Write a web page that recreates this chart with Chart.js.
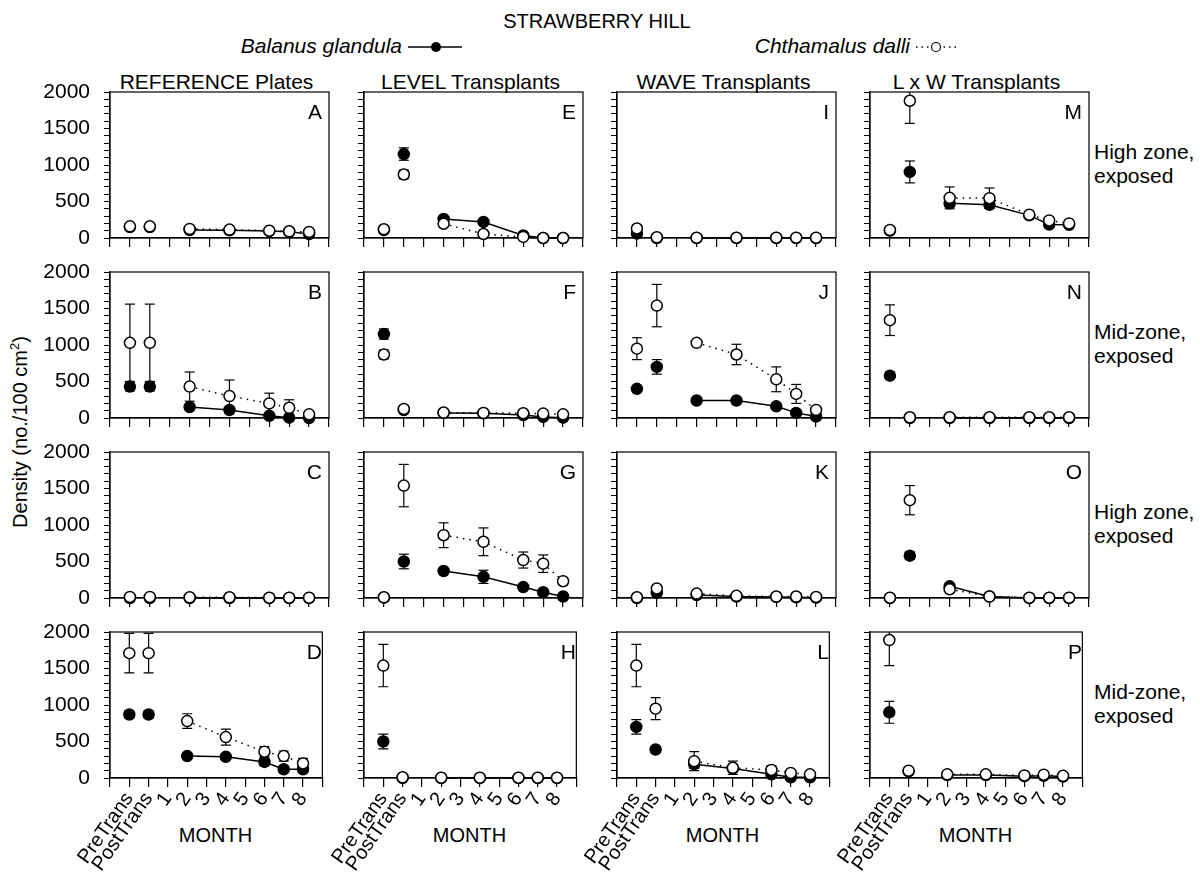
<!DOCTYPE html>
<html>
<head>
<meta charset="utf-8">
<script src="https://cdn.jsdelivr.net/npm/chart.js@4"></script>
<style>
  body { margin: 0; background: #fff; }
  #fig { position: relative; width: 1200px; height: 886px; overflow: hidden;
         font-family: 'Liberation Sans', Arial, sans-serif; color: #000; }
  .t { position: absolute; font-size: 20px; line-height: 1; white-space: nowrap; }
  canvas { position: absolute; }
</style>
</head>
<body>
<div id="fig"></div>
<script>
// x axis slots and the sampling dates that carry data
const xLabels = ['PreTrans', 'PostTrans', '1', '2', '3', '4', '5', '6', '7', '8'];
const samples = ['PreTrans', 'PostTrans', '2', '4', '6', '7', '8'];

const panelLetters = ['A', 'B', 'C', 'D', 'E', 'F', 'G', 'H', 'I', 'J', 'K', 'L', 'M', 'N', 'O', 'P'];
const columnTitles = ['REFERENCE Plates', 'LEVEL Transplants', 'WAVE Transplants', 'L x W Transplants'];
const rowLabels = [['High zone,', 'exposed'], ['Mid-zone,', 'exposed'], ['High zone,', 'exposed'], ['Mid-zone,', 'exposed']];
const yMax = 2000;

// Balanus glandula (filled), panels A..P, one value per sample
const balanusMean = [
  [150, 150, 110, 105, 95, 85, 55],
  [430, 430, 150, 110, 30, 5, 0],
  [0, 0, 0, 0, 0, 0, 0],
  [870, 870, 300, 290, 220, 120, 120],
  [110, 1150, 260, 220, 35, 0, 0],
  [1150, 110, 70, 65, 40, 15, 5],
  [5, 500, 370, 290, 150, 80, 20],
  [500, 0, 0, 0, 0, 0, 0],
  [60, 0, 0, 0, 0, 0, 0],
  [400, 700, 240, 240, 160, 70, 20],
  [0, 70, 40, 20, 15, 10, 5],
  [700, 390, 190, 130, 50, 10, 10],
  [100, 905, 475, 455, 310, 185, 180],
  [580, 0, 0, 0, 0, 0, 0],
  [0, 580, 160, 20, 0, 0, 0],
  [900, 90, 40, 40, 25, 30, 20]
];
const balanusSE = [
  [0, 0, 0, 0, 0, 0, 0],
  [60, 60, 40, 40, 20, 10, 0],
  [0, 0, 0, 0, 0, 0, 0],
  [50, 50, 40, 40, 50, 30, 30],
  [0, 85, 20, 20, 10, 0, 0],
  [70, 20, 10, 10, 10, 10, 0],
  [0, 100, 30, 90, 30, 20, 10],
  [100, 0, 0, 0, 0, 0, 0],
  [0, 0, 0, 0, 0, 0, 0],
  [30, 100, 20, 20, 20, 15, 10],
  [0, 20, 10, 10, 5, 5, 0],
  [100, 30, 60, 40, 20, 10, 10],
  [0, 150, 50, 50, 20, 20, 20],
  [50, 0, 0, 0, 0, 0, 0],
  [0, 50, 20, 10, 0, 0, 0],
  [150, 10, 10, 10, 10, 10, 10]
];
// Chthamalus dalli (open)
const chthamalusMean = [
  [160, 160, 125, 115, 100, 92, 83],
  [1030, 1030, 430, 300, 200, 140, 50],
  [15, 15, 10, 10, 5, 5, 5],
  [1710, 1710, 780, 560, 360, 300, 200],
  [120, 870, 195, 55, 15, 0, 0],
  [870, 125, 75, 70, 65, 60, 50],
  [10, 1540, 860, 770, 520, 470, 230],
  [1540, 10, 5, 5, 5, 5, 5],
  [130, 10, 5, 5, 5, 5, 5],
  [950, 1540, 1030, 870, 530, 330, 110],
  [10, 130, 60, 30, 20, 20, 15],
  [1540, 950, 230, 140, 110, 70, 50],
  [110, 1880, 550, 545, 320, 240, 200],
  [1340, 10, 10, 10, 10, 10, 10],
  [5, 1340, 120, 20, 5, 5, 5],
  [1890, 100, 50, 50, 35, 45, 30]
];
const chthamalusSE = [
  [0, 0, 0, 0, 0, 0, 0],
  [530, 530, 200, 220, 140, 110, 30],
  [0, 0, 0, 0, 0, 0, 0],
  [270, 270, 100, 110, 70, 70, 70],
  [20, 60, 20, 10, 0, 0, 0],
  [60, 30, 10, 10, 10, 10, 10],
  [0, 290, 170, 190, 110, 120, 40],
  [290, 0, 0, 0, 0, 0, 0],
  [0, 0, 0, 0, 0, 0, 0],
  [150, 290, 30, 140, 170, 130, 30],
  [0, 20, 10, 10, 10, 10, 10],
  [290, 150, 130, 90, 60, 30, 30],
  [10, 310, 150, 140, 20, 20, 20],
  [210, 0, 0, 0, 0, 0, 0],
  [0, 200, 20, 10, 0, 0, 0],
  [350, 15, 10, 10, 10, 10, 10]
];

// page layout
const plotLeft = [110, 364, 617, 870];
const plotTop = [92, 272, 452, 632];
const plotW = 219, plotH = 146;
const padL = 80, padT = 14, padR = 14;

const fig = document.getElementById('fig');
Chart.defaults.font.family = "'Liberation Sans', Arial, sans-serif";
Chart.defaults.color = '#000';

function text(html, css) {
  const d = document.createElement('div');
  d.className = 't';
  d.innerHTML = html;
  Object.assign(d.style, css);
  fig.appendChild(d);
  return d;
}

// titles and legend
text('STRAWBERRY HILL', { left: '597px', top: '11px', transform: 'translateX(-50%)', fontSize: '20px' });
text('<i>Balanus glandula</i>', { right: '798px', top: '35px', fontSize: '21px' });
text('<svg width="60" height="14"><line x1="2" y1="7" x2="56" y2="7" stroke="#000" stroke-width="1.3"/><circle cx="30" cy="7" r="5" fill="#000"/></svg>', { left: '406px', top: '37px' });
text('<i>Chthamalus dalli</i>', { right: '290px', top: '35px', fontSize: '21px' });
text('<svg width="50" height="14"><line x1="2" y1="7" x2="46" y2="7" stroke="#000" stroke-width="1.3" stroke-dasharray="1.5 4"/><circle cx="22" cy="7" r="4.5" fill="#fff" stroke="#000" stroke-width="1.2"/></svg>', { left: '914px', top: '37px' });
text('Density (no./100 cm<sup style="font-size:13px">2</sup>)', { left: '19px', top: '432px', transform: 'translate(-50%,-50%) rotate(-90deg)' });

columnTitles.forEach((t, c) => {
  text(t, { left: (plotLeft[c] + plotW / 2 - 3) + 'px', top: '71px', transform: 'translateX(-50%)', fontSize: '21px' });
  text('MONTH', { left: (plotLeft[c] + plotW / 2 - 4) + 'px', top: '825px', transform: 'translateX(-50%)' });
});
rowLabels.forEach((lines, r) => {
  text(lines.join('<br>'), { left: '1094px', top: (plotTop[r] + 48) + 'px', lineHeight: '24px', fontSize: '21px' });
});

// box round each plot area
const frame = {
  id: 'frame',
  beforeDatasetsDraw(chart) {
    const { ctx, chartArea: a } = chart;
    ctx.save();
    ctx.strokeStyle = '#000';
    ctx.lineWidth = 1.2;
    ctx.strokeRect(a.left, a.top, a.width, a.height);
    ctx.restore();
  }
};

const clip = { left: 12, right: 12, top: 0, bottom: 12 };

function meanSet(mean, filled) {
  return {
    data: samples.map((s, i) => ({ x: xLabels.indexOf(s) + 1, y: mean[i] })),
    borderColor: '#000',
    borderWidth: 1.5,
    borderDash: filled ? [] : [1.5, 5],
    pointRadius: 5.5,
    pointBackgroundColor: filled ? '#000' : '#fff',
    pointBorderColor: '#000',
    pointBorderWidth: 1.5,
    // PreTrans and PostTrans are not joined to the monthly series
    segment: { borderColor: c => c.p0DataIndex < 2 ? 'rgba(0,0,0,0)' : '#000' },
    clip: clip,
    order: filled ? 1 : 0
  };
}

function errSet(mean, se, order) {
  const data = [];
  samples.forEach((s, i) => {
    if (!se[i]) return;
    const x = xLabels.indexOf(s) + 1;
    data.push({ x: x, y: mean[i] - se[i] }, { x: x, y: mean[i] + se[i] }, { x: x, y: null });
  });
  return {
    data: data,
    borderColor: '#000',
    borderWidth: 1.2,
    pointStyle: 'line',
    pointRadius: 5,
    pointBorderColor: '#000',
    pointBorderWidth: 1.2,
    spanGaps: false,
    clip: clip,
    order: order
  };
}

for (let c = 0; c < 4; c++) {
  for (let r = 0; r < 4; r++) {
    const p = c * 4 + r;
    const bottomH = r === 3 ? 105 : 14;
    const cv = document.createElement('canvas');
    cv.width = padL + plotW + padR;
    cv.height = padT + plotH + bottomH;
    cv.style.left = (plotLeft[c] - padL) + 'px';
    cv.style.top = (plotTop[r] - padT) + 'px';
    fig.appendChild(cv);

    new Chart(cv, {
      type: 'line',
      data: {
        datasets: [
          meanSet(chthamalusMean[p], false),
          meanSet(balanusMean[p], true),
          errSet(chthamalusMean[p], chthamalusSE[p], 2),
          errSet(balanusMean[p], balanusSE[p], 3)
        ]
      },
      options: {
        responsive: false,
        animation: false,
        events: [],
        layout: { padding: { top: padT, right: padR, left: 0, bottom: 0 } },
        plugins: { legend: { display: false }, tooltip: { enabled: false } },
        scales: {
          x: {
            type: 'linear', min: 0, max: xLabels.length + 1,
            afterFit: s => { s.height = bottomH; },
            border: { color: '#000', width: 1.2 },
            grid: { drawOnChartArea: false, drawTicks: true, tickLength: 9, color: '#000', lineWidth: 1.2 },
            ticks: {
              display: r === 3, stepSize: 1, autoSkip: false, maxTicksLimit: 20,
              minRotation: 55, maxRotation: 55, padding: 1, font: { size: 20 },
              callback: v => xLabels[v - 1] || ''
            }
          },
          y: {
            min: 0, max: yMax,
            // keep every plot area the same size whatever the labels need
            afterFit: s => { s.width = padL; s.paddingTop = 0; s.paddingBottom = 0; },
            border: { color: '#000', width: 1.2 },
            grid: { drawOnChartArea: false, drawTicks: true, tickLength: 6, color: '#000', lineWidth: 1 },
            ticks: {
              display: c === 0, stepSize: 100, autoSkip: false, maxTicksLimit: 30,
              padding: 14, font: { size: 21 },
              callback: v => v % 500 === 0 ? v : ''
            }
          }
        }
      },
      plugins: [frame]
    });

    text(panelLetters[p], { right: (1200 - (plotLeft[c] + plotW - 7)) + 'px', top: (plotTop[r] + 9) + 'px', fontSize: '21px' });
  }
}
</script>
</body>
</html>
